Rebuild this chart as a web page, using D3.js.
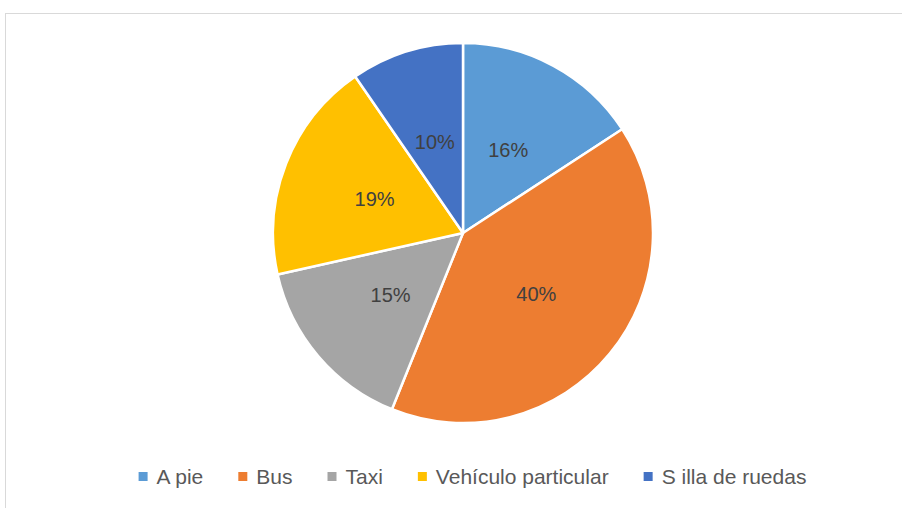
<!DOCTYPE html>
<html>
<head>
<meta charset="utf-8">
<script src="https://cdn.jsdelivr.net/npm/d3@7"></script>
<style>
  body { margin: 0; background: #fff; }
  svg { display: block; font-family: "Liberation Sans", Arial, sans-serif; }
</style>
</head>
<body>
<div id="chart"></div>
<script>
// chart data
var categories = ["A pie", "Bus", "Taxi", "Vehículo particular", "S illa de ruedas"];
var shares = [15.8, 40.3, 15.4, 18.9, 9.6];
var colorList = ["#5B9BD5", "#ED7D31", "#A5A5A5", "#FFC000", "#4472C4"];

function init() {
    var w = 902, h = 508;
    var cx = 463, cy = 233, r = 190;

    var svg = d3.select("#chart")
                .append("svg")
                .attr("width", w)
                .attr("height", h);

    // chart area border (runs off the right and bottom edges)
    svg.append("rect")
       .attr("x", 5.5)
       .attr("y", 13.5)
       .attr("width", w + 10)
       .attr("height", h + 10)
       .attr("fill", "#fff")
       .attr("stroke", "#D9D9D9")
       .attr("stroke-width", 1);

    var data = categories.map(function(c, i) { return { name: c, value: shares[i] }; });
    var total = d3.sum(shares);

    var pie = d3.pie()
                .sort(null)
                .value(function(d) { return d.value; });

    var arc = d3.arc().innerRadius(0).outerRadius(r);
    var labelArc = d3.arc().innerRadius(r * 0.5).outerRadius(r * 0.5);

    var color = d3.scaleOrdinal().domain(categories).range(colorList);

    var g = svg.append("g")
               .attr("transform", "translate(" + cx + "," + cy + ")");

    var slices = pie(data);

    g.selectAll("path")
     .data(slices)
     .enter()
     .append("path")
     .attr("d", arc)
     .attr("fill", function(d) { return color(d.data.name); })
     .attr("stroke", "#fff")
     .attr("stroke-width", 2.5)
     .attr("stroke-linejoin", "round");

    var fmt = d3.format(".0%");
    g.selectAll("text.lbl")
     .data(slices)
     .enter()
     .append("text")
     .attr("class", "lbl")
     .attr("transform", function(d) { return "translate(" + labelArc.centroid(d) + ")"; })
     .attr("text-anchor", "middle")
     .attr("dy", "0.36em")
     .attr("font-size", 20)
     .attr("fill", "#404040")
     .text(function(d) { return fmt(d.data.value / total); });

    // legend, centred below the pie
    var legend = svg.append("g");
    var box = 9, boxGap = 9, itemGap = 35, fontSize = 21;

    var items = legend.selectAll("g.item")
                      .data(categories)
                      .enter()
                      .append("g")
                      .attr("class", "item");

    items.append("rect")
         .attr("x", 0)
         .attr("y", 472)
         .attr("width", box)
         .attr("height", box)
         .attr("fill", function(d) { return color(d); });

    items.append("text")
         .attr("x", box + boxGap)
         .attr("y", 484)
         .attr("font-size", fontSize)
         .attr("fill", "#595959")
         .text(function(d) { return d; });

    var xPos = 0;
    var offsets = [];
    items.each(function() {
        offsets.push(xPos);
        var tw = d3.select(this).select("text").node().getComputedTextLength();
        xPos += box + boxGap + tw + itemGap;
    });
    var legendWidth = xPos - itemGap;
    var startX = 472.5 - legendWidth / 2;
    items.attr("transform", function(d, i) { return "translate(" + (startX + offsets[i]) + ",0)"; });
}

window.onload = init;
</script>
</body>
</html>
